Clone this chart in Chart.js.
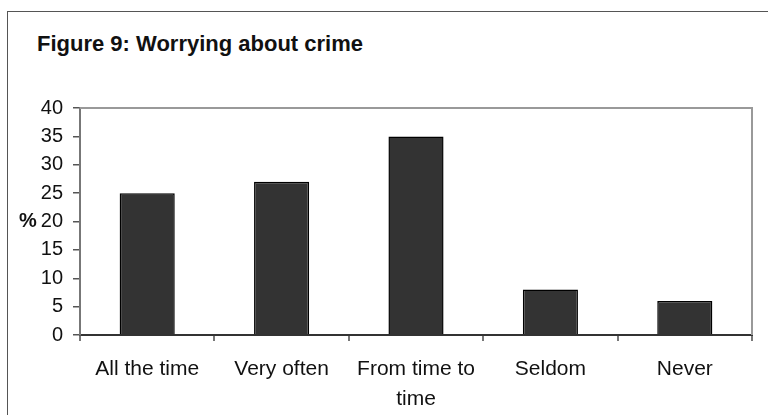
<!DOCTYPE html>
<html>
<head>
<meta charset="utf-8">
<script src="https://cdn.jsdelivr.net/npm/chart.js@4/dist/chart.umd.min.js"></script>
<style>
  html, body { margin: 0; padding: 0; background: #fff; }
  #wrap { position: relative; width: 768px; height: 415px; overflow: hidden; }
  #frame { position: absolute; left: 7px; top: 11px; width: 800px; height: 500px; border-left: 1px solid #555; border-top: 1px solid #555; }
  #title { position: absolute; left: 37px; top: 31px; line-height: 22px; font: bold 22px "Liberation Sans", Arial, sans-serif; color: #111; white-space: nowrap; }
  canvas { position: absolute; left: 0; top: 0; }
</style>
</head>
<body>
<div id="wrap">
  <div id="frame"></div>
  <div id="title">Figure 9: Worrying about crime</div>
  <canvas id="c" width="768" height="415"></canvas>
</div>
<script>
const categories = ['All the time', 'Very often', ['From time to', 'time'], 'Seldom', 'Never'];
const values = [25, 27, 35, 8, 6];
const yTicks = [0, 5, 10, 15, 20, 25, 30, 35, 40];
const yAxisTitle = '%';

const FONT = '"Liberation Sans", Arial, sans-serif';

const framePlugin = {
  id: 'framePlugin',
  afterDraw(chart) {
    const { ctx, chartArea: a } = chart;
    ctx.save();
    ctx.strokeStyle = '#999';
    ctx.lineWidth = 2;
    ctx.beginPath();
    ctx.moveTo(a.left, a.top);
    ctx.lineTo(a.right, a.top);
    ctx.lineTo(a.right, a.bottom);
    ctx.stroke();
    // y axis title
    const y = chart.scales.y;
    ctx.fillStyle = '#111';
    ctx.font = 'bold 20px ' + FONT;
    ctx.textAlign = 'left';
    ctx.textBaseline = 'middle';
    ctx.fillText(yAxisTitle, 19, y.getPixelForValue(20));
    ctx.restore();
  }
};

new Chart(document.getElementById('c'), {
  type: 'bar',
  data: {
    labels: categories,
    datasets: [{
      data: values,
      backgroundColor: '#333333',
      borderColor: '#000000',
      borderWidth: 1.5,
      barPercentage: 0.41,
      categoryPercentage: 1.0
    }]
  },
  options: {
    responsive: false,
    animation: false,
    layout: { padding: { left: 0, right: 16, top: 108, bottom: 0 } },
    plugins: { legend: { display: false }, title: { display: false }, tooltip: { enabled: false } },
    scales: {
      x: {
        offset: true,
        grid: { display: true, offset: true, drawOnChartArea: false, drawTicks: true, tickLength: 6, color: '#777', lineWidth: 2 },
        border: { display: true, color: '#333', width: 2 },
        ticks: { color: '#111', font: { family: FONT, size: 21, lineHeight: 1.43 }, padding: 13, maxRotation: 0, autoSkip: false },
        afterFit(s) { s.height = 80; }
      },
      y: {
        min: 0, max: 40,
        afterBuildTicks(s) { s.ticks = yTicks.map(v => ({ value: v })); },
        grid: { display: true, drawOnChartArea: false, drawTicks: true, tickLength: 7, color: '#555', lineWidth: 1.5 },
        border: { display: true, color: '#777', width: 2 },
        ticks: { color: '#111', font: { family: FONT, size: 20 }, padding: 10 },
        afterFit(s) { s.width = 80; }
      }
    }
  },
  plugins: [framePlugin]
});
</script>
</body>
</html>
